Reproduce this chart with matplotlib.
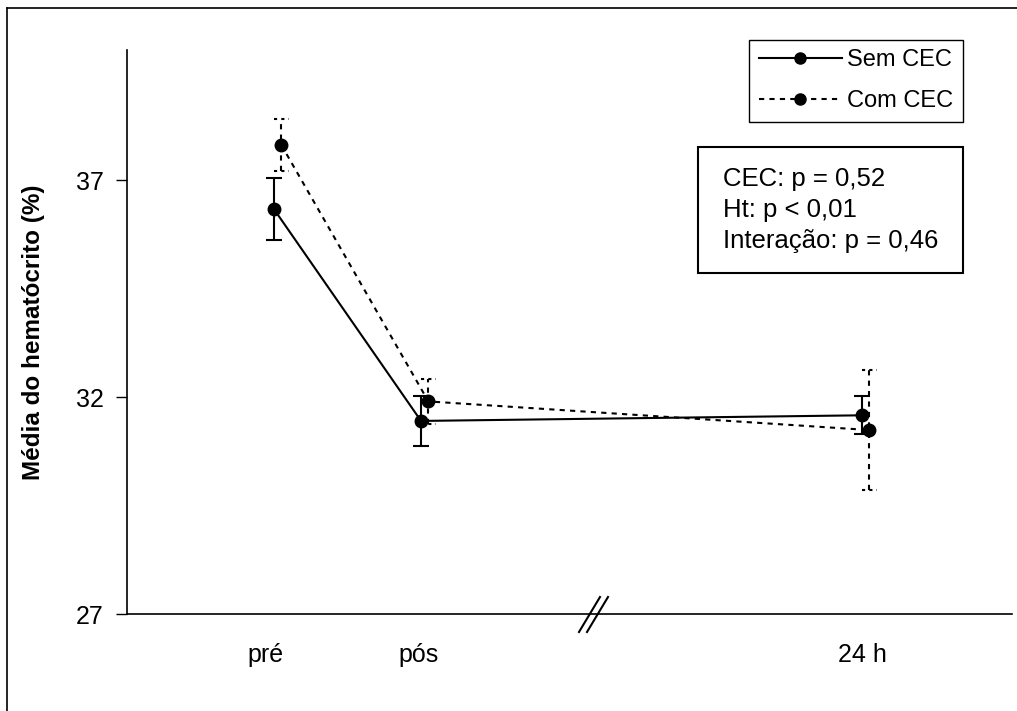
import matplotlib.pyplot as plt
from matplotlib.lines import Line2D
from matplotlib.patches import Rectangle

plt.rcParams['font.family'] = ['Liberation Sans', 'DejaVu Sans']

# data
tempos = ["pré", "pós", "24 h"]
sem_cec = [36.33, 31.45, 31.58]
sem_cec_err = [0.72, 0.57, 0.44]
com_cec = [37.81, 31.90, 31.24]
com_cec_err = [0.60, 0.52, 1.38]
series_names = ["Sem CEC", "Com CEC"]
stats_text = ["CEC: p = 0,52", "Ht: p < 0,01", "Interação: p = 0,46"]

x_pos = [1.0, 2.0, 5.0]
x_com = [x + 0.05 for x in x_pos]
label_pos = [0.94, 1.98, 5.0]

fig = plt.figure(figsize=(10.17, 7.11), dpi=100)
ax = fig.add_axes([127 / 1017, 1 - 614 / 711, (1012 - 127) / 1017, (614 - 50) / 711])

dash = (0, (2.5, 2.5))
ax.errorbar(x_pos, sem_cec, yerr=sem_cec_err, color='black', lw=1.5, marker='o',
            ms=9, capsize=6, capthick=1.5, elinewidth=1.5)
eb = ax.errorbar(x_com, com_cec, yerr=com_cec_err, color='black', lw=1.5, marker='o',
                 ms=9, elinewidth=1.5, ls=dash)
eb[2][0].set_linestyle(dash)

# dashed caps for Com CEC
for x, y, e in zip(x_com, com_cec, com_cec_err):
    for yy in (y - e, y + e):
        ax.plot([x - 0.05, x + 0.05], [yy, yy], color='black', lw=1.5, ls=(0, (1.5, 2)))

ax.set_xlim(0, 6.02)
ax.set_ylim(27, 40)
ax.set_yticks([27, 32, 37])
ax.set_xticks(label_pos)
ax.set_xticklabels(tempos)
ax.tick_params(axis='y', labelsize=18, length=8, width=1, pad=9, direction='out')
ax.tick_params(axis='x', labelsize=18, length=0, pad=21)
for s in ['top', 'right']:
    ax.spines[s].set_visible(False)
for s in ['left', 'bottom']:
    ax.spines[s].set_linewidth(1.2)
ax.set_ylabel("Média do hematócrito (%)", fontsize=17.5, fontweight='bold', labelpad=22)

# axis break marks
for dx in (0, 8):
    fig.add_artist(Line2D([(579 + dx) / 1017, (600 + dx) / 1017],
                          [1 - 632 / 711, 1 - 597 / 711], color='black', lw=1.5))

handles = [Line2D([], [], color='black', lw=1.5, marker='o', ms=8),
           Line2D([], [], color='black', lw=1.5, marker='o', ms=8, ls=dash)]
leg = ax.legend(handles, series_names, loc='upper right',
                bbox_to_anchor=(963 / 1017, 1 - 40 / 711),
                bbox_transform=fig.transFigure, borderaxespad=0, fontsize=17,
                frameon=True, fancybox=False, edgecolor='black', framealpha=1,
                handlelength=3.5, handletextpad=0.25, labelspacing=0.8,
                borderpad=0.4, handleheight=0.7, numpoints=1)
leg.get_frame().set_linewidth(1)

fig.add_artist(Rectangle((698 / 1017, 1 - 273 / 711), 265 / 1017, 126 / 711,
                         transform=fig.transFigure, fill=False, edgecolor='black', lw=1.5))
for txt, yb in zip(stats_text, [186, 217, 248]):
    fig.text(723 / 1017, 1 - yb / 711, txt, fontsize=18.5, va='baseline', ha='left')

# outer frame (cropped)
fig.add_artist(Line2D([7 / 1017, 1], [1 - 8 / 711, 1 - 8 / 711], color='black', lw=1.2))
fig.add_artist(Line2D([7 / 1017, 7 / 1017], [0, 1 - 8 / 711], color='black', lw=1.2))

fig.savefig("out.png", dpi=100)
